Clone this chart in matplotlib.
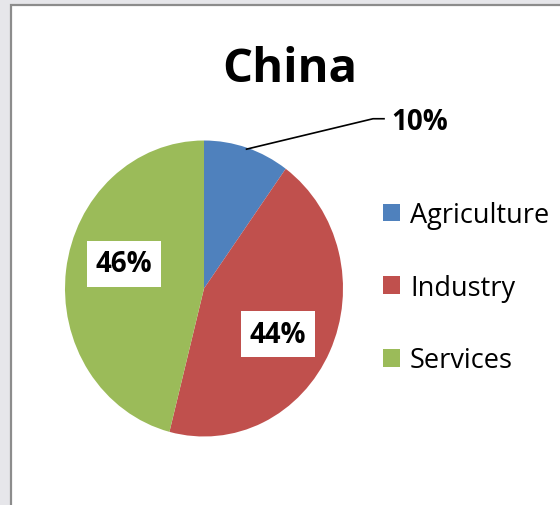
import numpy as np
import matplotlib.pyplot as plt
from matplotlib.patches import Rectangle

# ------------------------------------------------------------------------------
# Data
# ------------------------------------------------------------------------------
title = "China"
sectors = ["Agriculture", "Industry", "Services"]
shares = [10, 44, 46]
colors = ["#4F81BD", "#C0504D", "#9BBB59"]

W, H = 560, 506
DPI = 100
FONT = "Open Sans"

# pie geometry in pixels: centre and semi-axes (the source image is stretched,
# so the pie is slightly taller than it is wide)
CX, CY, RX, RY = 204, 289.5, 139, 148

fig = plt.figure(figsize=(W / DPI, H / DPI), dpi=DPI)
fig.patch.set_facecolor("#E6E6EA")

# chart area: white box with grey border, running off the right/bottom edge
fig.patches.append(Rectangle((11 / W, -0.05), 1.2, 1 - 6 / H + 0.05,
                             transform=fig.transFigure, facecolor="white",
                             edgecolor="#8C8C8C", lw=1.6, zorder=-5))

ax = fig.add_axes([(CX - RX) / W, (H - CY - RY) / H, 2 * RX / W, 2 * RY / H])
wedges, _ = ax.pie(shares, colors=colors, startangle=90, counterclock=False,
                   radius=1.0, wedgeprops=dict(linewidth=0))
ax.set_aspect("auto")
ax.set_xlim(-1, 1)
ax.set_ylim(-1, 1)
ax.axis("off")

# mid angle of each wedge
mids = [np.deg2rad((w.theta1 + w.theta2) / 2) for w in wedges]
pct = [f"{v}%" for v in shares]
lab_kw = dict(fontsize=20, fontweight="bold", family=FONT, ha="center",
              va="center", color="black")
box = dict(boxstyle="square,pad=0.3", facecolor="white", edgecolor="none")

# Agriculture: outside label with leader line
a = mids[0]
x0, y0 = 0.99 * np.cos(a), 0.99 * np.sin(a)
ax.plot([x0, 1.216, 1.295], [y0, 1.147, 1.147], color="black", lw=1.2,
        clip_on=False)
ax.text(1.554, 1.127, pct[0], clip_on=False, **lab_kw)

# Industry / Services: inside labels on white boxes
ax.text(0.532, -0.308, pct[1], bbox=box, **lab_kw)
ax.text(-0.576, 0.166, pct[2], bbox=box, **lab_kw)

fig.text(290 / W, 1 - 69 / H, title, fontsize=34, fontweight="bold",
         family=FONT, ha="center", va="center")

fig.legend(wedges, sectors, loc="upper left",
           bbox_to_anchor=(383 / W, 1 - 202 / H), frameon=False,
           prop=dict(family=FONT, size=19.5), handlelength=0.62,
           handleheight=0.62, handletextpad=0.38, labelspacing=1.65,
           borderpad=0, borderaxespad=0)

fig.savefig("out.png", dpi=DPI, facecolor=fig.get_facecolor())
